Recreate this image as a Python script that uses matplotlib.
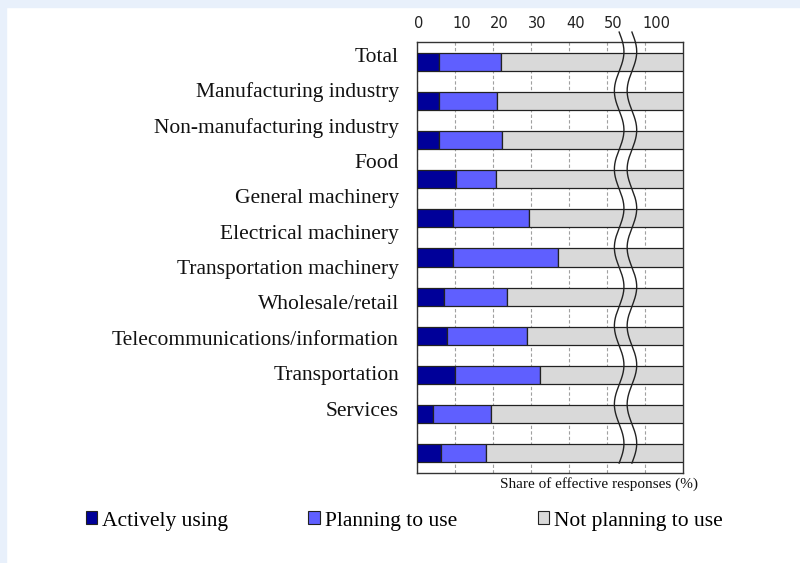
import numpy as np
import matplotlib
matplotlib.use("Agg")
import matplotlib.pyplot as plt
from matplotlib.patches import Rectangle, Patch
from matplotlib.transforms import ScaledTranslation

# industries, top to bottom
categories = [
    "Total", "Manufacturing industry", "Non-manufacturing industry", "Food",
    "General machinery", "Electrical machinery", "Transportation machinery",
    "Wholesale/retail", "Telecommunications/information", "Transportation",
    "Services",
]
# share of effective responses (%)
actively_using = [5.9, 5.9, 5.9, 10.3, 9.4, 9.4, 7.2, 7.8, 10.0, 4.2, 6.4]
planning_to_use = [16.1, 15.2, 16.4, 10.6, 20.2, 27.6, 16.4, 21.1, 22.4, 15.2, 11.8]
not_planning = [100 - a - p for a, p in zip(actively_using, planning_to_use)]

series_names = ["Actively using", "Planning to use", "Not planning to use"]
series_colors = ["#000099", "#5f5fff", "#d9d9d9"]

tick_values = [0, 10, 20, 30, 40, 50, 70]
tick_labels = ["0", "10", "20", "30", "40", "50", "100"]

# broken axis: linear up to 55, compressed after
BREAK = 55.0
SQUEEZE = 3.0


def fwd(x):
    x = np.asarray(x, dtype=float)
    return np.where(x <= BREAK, x, BREAK + (x - BREAK) / SQUEEZE)


def inv(x):
    x = np.asarray(x, dtype=float)
    return np.where(x <= BREAK, x, BREAK + (x - BREAK) * SQUEEZE)


serif = ["Liberation Serif", "DejaVu Serif"]

fig = plt.figure(figsize=(8.0, 5.63), dpi=100)
# light blue frame at top and left edge
fig.patches.append(Rectangle((0, 1 - 7 / 563), 1, 7 / 563, transform=fig.transFigure,
                             color="#e8f0fb", zorder=0))
fig.patches.append(Rectangle((0, 0), 6 / 800, 1, transform=fig.transFigure,
                             color="#e8f0fb", zorder=0))

ax = fig.add_axes([417 / 800, 1 - 473 / 563, 266 / 800, 431 / 563])
ax.set_xscale("function", functions=(fwd, inv))

y = np.arange(len(categories))
left = np.zeros(len(categories))
for vals, name, col in zip([actively_using, planning_to_use, not_planning],
                           series_names, series_colors):
    ax.barh(y, vals, left=left, height=0.46, color=col,
            edgecolor="#222222", linewidth=0.9, label=name, zorder=3)
    left = left + np.array(vals)

ax.set_xlim(0, 100)
ax.set_ylim(len(categories) - 0.5, -0.5)

ax.xaxis.tick_top()
ax.set_xticks(tick_values)
ax.set_xticklabels(tick_labels, fontsize=10.5, color="#222222", ha="left")
ax.tick_params(axis="x", length=0, pad=8)
shift = ScaledTranslation(-3 / 100, 0, fig.dpi_scale_trans)
for lbl in ax.get_xticklabels():
    lbl.set_transform(lbl.get_transform() + shift)
ax.set_yticks([])
ax.grid(axis="x", linestyle=(0, (3, 2)), color="#a0a0a0", linewidth=0.8, zorder=1)
for s in ax.spines.values():
    s.set_color("#333333")
    s.set_linewidth(1.0)

# wavy break marks
t = np.linspace(0, 1, 400)
wave_y = 1.023 - t * (1.023 - 0.023)
for x0 in (0.760, 0.808):
    ax.plot(x0 + 0.018 * np.sin(t * 2 * np.pi * 5.5), wave_y,
            transform=ax.transAxes, color="#222222", linewidth=1.0,
            clip_on=False, zorder=5)

# category labels (placed as in the original layout)
label_top, label_step = 57.0, 35.4
for i, cat in enumerate(categories):
    py = label_top + i * label_step
    fig.text(399 / 800, 1 - py / 563, cat, ha="right", va="center",
             fontsize=15.5, family=serif, color="#111111")

ax.text(1.055, -0.025, "Share of effective responses (%)", transform=ax.transAxes,
        ha="right", va="center", fontsize=11, family=serif, color="#111111")

fig.legend(handles=[Patch(facecolor=c, edgecolor="#222222", linewidth=0.8)
                    for c in series_colors],
           labels=series_names, loc="center", bbox_to_anchor=(0.505, 1 - 521 / 563),
           ncol=3, frameon=False, handlelength=0.55, handleheight=0.55,
           handletextpad=0.2, columnspacing=3.75,
           prop={"family": serif, "size": 15.5})

fig.savefig("out.png", dpi=100, facecolor="white")
